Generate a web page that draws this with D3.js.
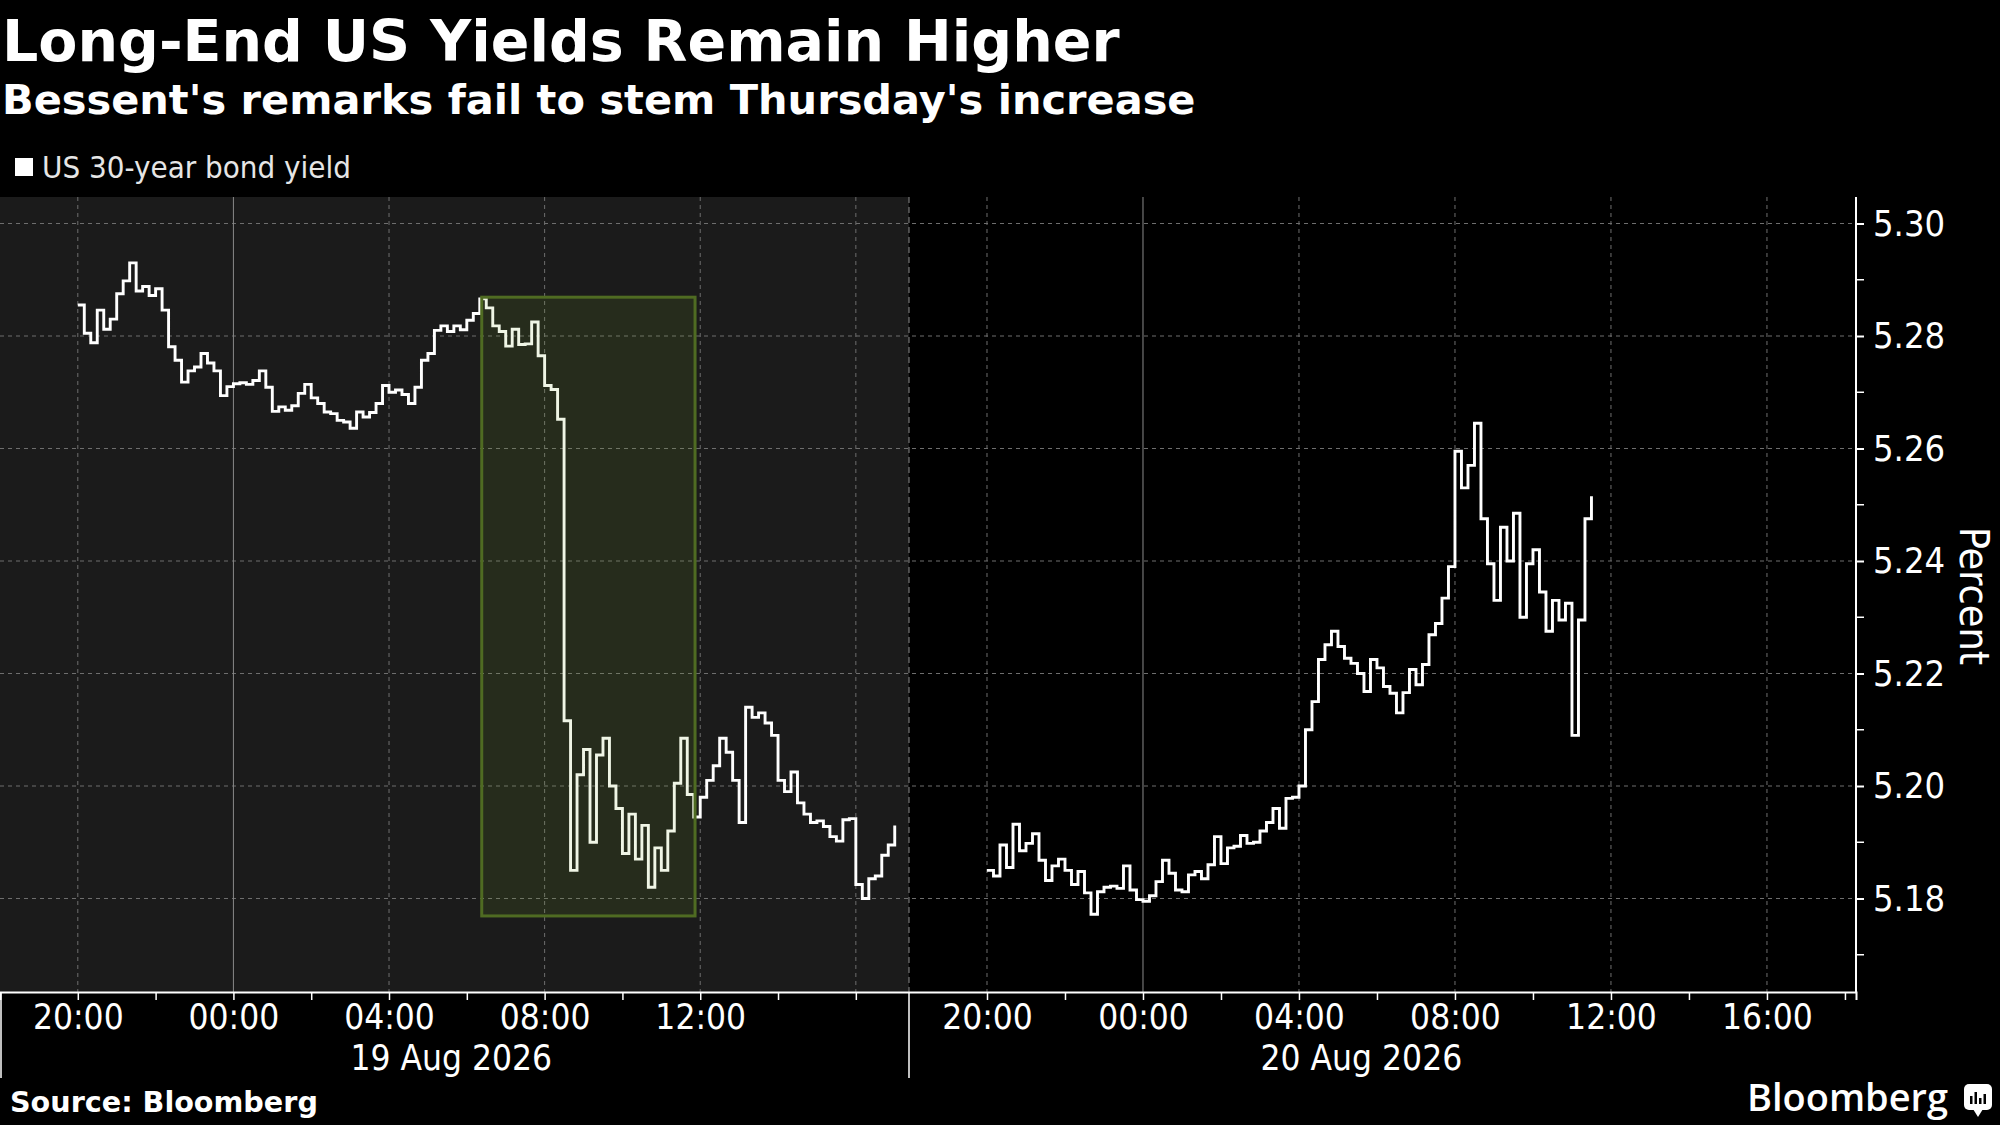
<!DOCTYPE html>
<html>
<head>
<meta charset="utf-8">
<script src="https://cdn.jsdelivr.net/npm/d3@7"></script>
<style>
  html, body { margin: 0; padding: 0; background: #000; }
  svg { display: block; }
</style>
</head>
<body>
<svg id="chart" width="2000" height="1125"></svg>
<script>
const title = "Long-End US Yields Remain Higher"
const subtitle = "Bessent's remarks fail to stem Thursday's increase"
const legendLabel = "US 30-year bond yield"
const source = "Source: Bloomberg"
const axisTitle = "Percent"

// two trading sessions, each drawn in its own panel
const panelStarts = ["2026-08-18T18:00", "2026-08-19T18:00"]
const panelEnds = ["2026-08-19T17:22", "2026-08-20T18:17"]
const dayLabels = ["19 Aug 2026", "20 Aug 2026"]
const dayLabelTimes = ["2026-08-19T05:36", "2026-08-20T05:36"]
const tickLabels = [
    ["2026-08-18T20:00", "2026-08-19T00:00", "2026-08-19T04:00", "2026-08-19T08:00", "2026-08-19T12:00"],
    ["2026-08-19T20:00", "2026-08-20T00:00", "2026-08-20T04:00", "2026-08-20T08:00", "2026-08-20T12:00", "2026-08-20T16:00"]
]
const yTicks = [5.18, 5.20, 5.22, 5.24, 5.26, 5.28, 5.30]
const yMinorTicks = [5.17, 5.19, 5.21, 5.23, 5.25, 5.27, 5.29]

// highlighted window around the 08:30 drop
const boxStart = "2026-08-19T06:23"
const boxEnd = "2026-08-19T11:52"
const boxLow = 5.1769
const boxHigh = 5.2869

// 10 minute readings
const stepMinutes = 10
const day1Start = "2026-08-18T20:00"
const day1Yield = [
    5.2855, 5.2805, 5.2788, 5.2846, 5.2812, 5.2830, 5.2875, 5.2898, 5.2930, 5.2880,
    5.2888, 5.2872, 5.2884, 5.2846, 5.2781, 5.2757, 5.2718, 5.2738, 5.2745, 5.2769,
    5.2752, 5.2738, 5.2694, 5.2710, 5.2715, 5.2717, 5.2714, 5.2721, 5.2738, 5.2709,
    5.2666, 5.2674, 5.2668, 5.2676, 5.2698, 5.2714, 5.2690, 5.2680, 5.2665, 5.2662,
    5.2650, 5.2647, 5.2636, 5.2665, 5.2656, 5.2664, 5.2680, 5.2712, 5.2700, 5.2704,
    5.2696, 5.2680, 5.2709, 5.2757, 5.2769, 5.2810, 5.2818, 5.2808, 5.2818, 5.2811,
    5.2828, 5.2840, 5.2866, 5.2850, 5.2818, 5.2808, 5.2782, 5.2812, 5.2785, 5.2786,
    5.2825, 5.2765, 5.2712, 5.2705, 5.2652, 5.2116, 5.1850, 5.2020, 5.2065, 5.1900,
    5.2055, 5.2085, 5.2000, 5.1960, 5.1880, 5.1950, 5.1870, 5.1930, 5.1820, 5.1890,
    5.1850, 5.1920, 5.2005, 5.2085, 5.1985, 5.1945, 5.1980, 5.2010, 5.2036, 5.2085,
    5.2060, 5.2010, 5.1935, 5.2140, 5.2122, 5.2130, 5.2112, 5.2090, 5.2010, 5.1990,
    5.2025, 5.1970, 5.1950, 5.1935, 5.1938, 5.1928, 5.1910, 5.1902, 5.1940, 5.1942,
    5.1825, 5.1800, 5.1835, 5.1840, 5.1877, 5.1895, 5.1930
]
const day2Start = "2026-08-19T20:00"
const day2Yield = [
    5.1850, 5.1840, 5.1895, 5.1855, 5.1932, 5.1885, 5.1898, 5.1915, 5.1868, 5.1832,
    5.1858, 5.1870, 5.1850, 5.1825, 5.1848, 5.1810, 5.1772, 5.1812, 5.1820, 5.1822,
    5.1818, 5.1858, 5.1815, 5.1798, 5.1795, 5.1805, 5.1830, 5.1868, 5.1845, 5.1815,
    5.1812, 5.1842, 5.1848, 5.1835, 5.1860, 5.1910, 5.1862, 5.1890, 5.1893, 5.1912,
    5.1898, 5.1900, 5.1920, 5.1935, 5.1960, 5.1925, 5.1978, 5.1980, 5.2000, 5.2100,
    5.2150, 5.2225, 5.2251, 5.2275, 5.2248, 5.2227, 5.2218, 5.2200, 5.2168, 5.2225,
    5.2210, 5.2177, 5.2165, 5.2130, 5.2166, 5.2207, 5.2180, 5.2216, 5.2269, 5.2289,
    5.2334, 5.2390, 5.2595, 5.2530, 5.2570, 5.2645, 5.2475, 5.2395, 5.2330, 5.2460,
    5.2400, 5.2485, 5.2300, 5.2395, 5.2420, 5.2345, 5.2275, 5.2330, 5.2295, 5.2325,
    5.2090, 5.2295, 5.2475, 5.2515
]

const parse = d3.timeParse("%Y-%m-%dT%H:%M")
const condensed = "'DejaVu Sans Condensed', 'Liberation Sans Narrow', 'DejaVu Sans', sans-serif"
const bold = "'DejaVu Sans', sans-serif"

const plot = {left: 0, right: 1856, top: 197, bottom: 992}
const split = 909

const series = [[day1Start, day1Yield], [day2Start, day2Yield]].map(([start, vals]) =>
    vals.map((v, i) => ({t: d3.timeMinute.offset(parse(start), i * stepMinutes), v: v})))

const x = d3.scaleTime()
    .domain([parse(panelStarts[0]), parse(panelEnds[0]), parse(panelStarts[1]), parse(panelEnds[1])])
    .range([plot.left, split, split, plot.right])

const y = d3.scaleLinear()
    .domain([5.30 - (plot.bottom - 223.5) / 112.5 * 0.02, 5.30 + (223.5 - plot.top) / 112.5 * 0.02])
    .range([plot.bottom, plot.top])

const svg = d3.select("#chart")

svg.append("rect").attr("width", 2000).attr("height", 1125).attr("fill", "#000")

// left panel is shaded
svg.append("rect")
    .attr("x", plot.left)
    .attr("y", plot.top)
    .attr("width", split - plot.left)
    .attr("height", plot.bottom - plot.top)
    .attr("fill", "#1b1b1b")

const grid = svg.append("g")

grid.selectAll(".hgrid")
    .data(yTicks)
    .join("line")
    .attr("x1", plot.left)
    .attr("x2", plot.right)
    .attr("y1", d => y(d))
    .attr("y2", d => y(d))
    .attr("stroke", "#6e6e6e")
    .attr("stroke-width", 1)
    .attr("stroke-dasharray", "4,4")

const gridTimes = []
panelStarts.forEach((s, i) => {
    d3.timeHour.every(4).range(parse(s), parse(panelEnds[i])).forEach(t => gridTimes.push(t))
})

grid.selectAll(".vgrid")
    .data(gridTimes)
    .join("line")
    .attr("x1", d => x(d))
    .attr("x2", d => x(d))
    .attr("y1", plot.top)
    .attr("y2", plot.bottom)
    .attr("stroke", d => d.getHours() === 0 ? "#8a8a8a" : "#6e6e6e")
    .attr("stroke-width", 1)
    .attr("stroke-dasharray", d => d.getHours() === 0 ? null : "4,4")

// session break
grid.append("line")
    .attr("x1", split)
    .attr("x2", split)
    .attr("y1", plot.top)
    .attr("y2", plot.bottom)
    .attr("stroke", "#8a8a8a")
    .attr("stroke-dasharray", "6,4")

const line = d3.line()
    .x(d => x(d.t))
    .y(d => y(d.v))
    .curve(d3.curveStepAfter)

svg.selectAll(".series")
    .data(series)
    .join("path")
    .attr("d", line)
    .attr("fill", "none")
    .attr("stroke", "#fff")
    .attr("stroke-width", 2.9)

svg.append("rect")
    .attr("x", x(parse(boxStart)))
    .attr("y", y(boxHigh))
    .attr("width", x(parse(boxEnd)) - x(parse(boxStart)))
    .attr("height", y(boxLow) - y(boxHigh))
    .attr("fill", "rgb(120,170,40)")
    .attr("fill-opacity", 0.12)
    .attr("stroke", "#4f6b22")
    .attr("stroke-width", 3)

// x axis
const allTicks = []
panelStarts.forEach((s, i) => {
    d3.timeHour.every(2).range(parse(s), parse(panelEnds[i]))
        .filter(t => t > parse(s))
        .forEach(t => allTicks.push(t))
})
const labelSet = new Set(tickLabels.flat())
const fmt = d3.timeFormat("%Y-%m-%dT%H:%M")

const xAxis = svg.append("g")
    .attr("transform", `translate(0,${plot.bottom})`)
    .call(d3.axisBottom(x)
        .tickValues(allTicks)
        .tickSize(8)
        .tickPadding(4)
        .tickFormat(d => labelSet.has(fmt(d)) ? d3.timeFormat("%H:%M")(d) : ""))

xAxis.select(".domain").attr("stroke", "#fff").attr("stroke-width", 2)
xAxis.selectAll(".tick line").attr("stroke", "#fff").attr("stroke-width", 1.5)
xAxis.selectAll(".tick text")
    .attr("fill", "#fff")
    .attr("font-family", condensed)
    .attr("font-size", 35)

svg.selectAll(".daylabel")
    .data(dayLabels)
    .join("text")
    .attr("x", (d, i) => x(parse(dayLabelTimes[i])))
    .attr("y", 1070)
    .attr("text-anchor", "middle")
    .attr("fill", "#fff")
    .attr("font-family", condensed)
    .attr("font-size", 35)
    .text(d => d)

svg.selectAll(".panelsep")
    .data([plot.left + 1, split])
    .join("line")
    .attr("x1", d => d)
    .attr("x2", d => d)
    .attr("y1", plot.bottom)
    .attr("y2", 1078)
    .attr("stroke", "#fff")
    .attr("stroke-width", 1.5)

// y axis on the right
const yAxis = svg.append("g")
    .attr("transform", `translate(${plot.right},0)`)
    .call(d3.axisRight(y).tickValues(yTicks).tickSize(8).tickPadding(9).tickFormat(d3.format(".2f")))

yAxis.select(".domain").attr("d", `M0,${plot.top}V${plot.bottom}`).attr("stroke", "#fff").attr("stroke-width", 2)
yAxis.selectAll(".tick line").attr("stroke", "#fff").attr("stroke-width", 2)
yAxis.selectAll(".tick text")
    .attr("fill", "#fff")
    .attr("font-family", condensed)
    .attr("font-size", 36)

svg.append("g")
    .attr("transform", `translate(${plot.right},0)`)
    .selectAll("line")
    .data(yMinorTicks)
    .join("line")
    .attr("x1", 0)
    .attr("x2", 8)
    .attr("y1", d => y(d))
    .attr("y2", d => y(d))
    .attr("stroke", "#fff")
    .attr("stroke-width", 1.5)

svg.append("text")
    .attr("transform", "translate(1960,596) rotate(90)")
    .attr("text-anchor", "middle")
    .attr("fill", "#fff")
    .attr("font-family", condensed)
    .attr("font-size", 41)
    .text(axisTitle)

function fitWidth(sel, w) {
    const len = sel.node().getComputedTextLength()
    const fs = parseFloat(sel.attr("font-size"))
    sel.attr("font-size", fs * w / len)
}

// titles
fitWidth(svg.append("text")
    .attr("x", 2)
    .attr("y", 61)
    .attr("fill", "#fff")
    .attr("font-family", bold)
    .attr("font-weight", "bold")
    .attr("font-size", 57)
    .text(title), 1118)

fitWidth(svg.append("text")
    .attr("x", 2)
    .attr("y", 114)
    .attr("fill", "#fff")
    .attr("font-family", bold)
    .attr("font-weight", "bold")
    .attr("font-size", 40)
    .text(subtitle), 1194)

svg.append("rect")
    .attr("x", 15)
    .attr("y", 158)
    .attr("width", 18)
    .attr("height", 18)
    .attr("fill", "#fff")

fitWidth(svg.append("text")
    .attr("x", 42)
    .attr("y", 178)
    .attr("fill", "#e6e6e6")
    .attr("font-family", condensed)
    .attr("font-size", 28)
    .text(legendLabel), 309)

fitWidth(svg.append("text")
    .attr("x", 10)
    .attr("y", 1112)
    .attr("fill", "#fff")
    .attr("font-family", bold)
    .attr("font-weight", "bold")
    .attr("font-size", 28)
    .text(source), 308)

fitWidth(svg.append("text")
    .attr("x", 1747)
    .attr("y", 1111)
    .attr("fill", "#fff")
    .attr("font-family", "'Open Sans', 'DejaVu Sans', sans-serif")
    .attr("font-weight", 600)
    .attr("font-size", 38)
    .text("Bloomberg"), 201)

// little logo mark
const logo = svg.append("g").attr("transform", "translate(1964,1084)")
logo.append("rect").attr("width", 28).attr("height", 26).attr("rx", 5).attr("fill", "#fff")
logo.append("path").attr("d", "M9,25 L14,33 L19,25 Z").attr("fill", "#fff")
logo.selectAll(".bar")
    .data([8, 12, 6, 10])
    .join("rect")
    .attr("x", (d, i) => 6 + i * 4.5)
    .attr("y", d => 20 - d)
    .attr("width", 2.5)
    .attr("height", d => d)
    .attr("fill", "#000")
</script>
</body>
</html>
